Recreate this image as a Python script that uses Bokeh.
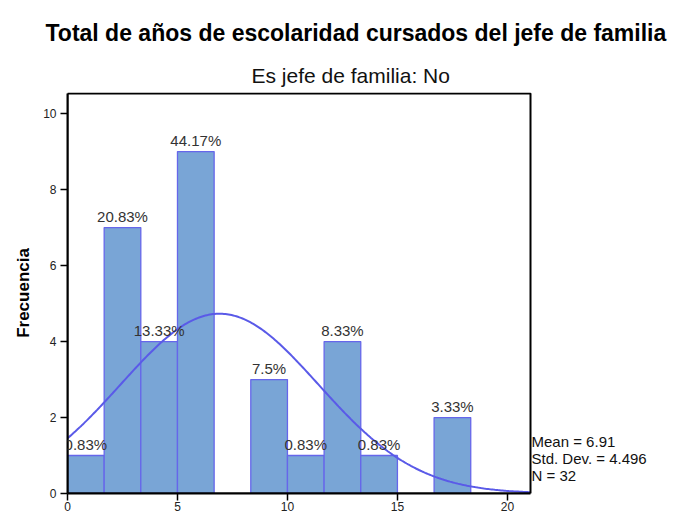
import numpy as np
from bokeh.plotting import figure
from bokeh.models import (Range1d, Title, Label, LabelSet, ColumnDataSource, FixedTicker,
                          BoxAnnotation)
from bokeh.core.properties import value
from bokeh.embed import file_html
from bokeh.resources import INLINE

# ---- data ----
bin_left = [0.0, 1.667, 3.333, 5.0, 8.333, 10.0, 11.667, 13.333, 16.667]
bin_right = [1.667, 3.333, 5.0, 6.667, 10.0, 11.667, 13.333, 15.0, 18.333]
counts = [1, 7, 4, 9, 3, 1, 4, 1, 2]
pct_labels = ["0.83%", "20.83%", "13.33%", "44.17%", "7.5%", "0.83%", "8.33%", "0.83%", "3.33%"]
stat_mean = 6.91
stat_std = 4.496
stat_n = 32
bin_width = 5.0 / 3.0
x_ticks = [0, 5, 10, 15, 20]
y_ticks = [0, 2, 4, 6, 8, 10]

# axis extents of the chart box
X_MAX = 21.05
Y_MAX = 10.53

FONT = "Liberation Sans"
BAR_FILL = "#79a5d6"
BAR_LINE = "#6666ea"
CURVE = "#5a5ae8"

W, H = 677, 514
LEFT, TOP, BOTTOM = 67, 92, 21
PX_PER_X = 463.0 / X_MAX           # frame box is 463 px wide in the reference
x_end = (W - LEFT) / PX_PER_X        # extend the frame to the right edge for the stats text
y_end = Y_MAX + 1.0 / 37.94

p = figure(width=W, height=H, output_backend="svg", toolbar_location=None,
           x_range=Range1d(0, x_end), y_range=Range1d(0, y_end),
           min_border_left=LEFT, min_border_right=0, min_border_top=TOP,
           min_border_bottom=BOTTOM, title=None)
p.background_fill_color = "white"
p.border_fill_color = "white"
p.outline_line_color = None
p.xgrid.visible = False
p.ygrid.visible = False

# chart box
p.add_layout(BoxAnnotation(left=0, right=X_MAX, bottom=0, top=Y_MAX,
                           fill_alpha=0, line_color="black", line_alpha=1.0,
                           line_width=2))

src = ColumnDataSource(dict(left=bin_left, right=bin_right, top=counts,
                            xc=[(a + b) / 2 for a, b in zip(bin_left, bin_right)],
                            lab=pct_labels))
p.quad(left="left", right="right", top="top", bottom=0, source=src,
       fill_color=BAR_FILL, line_color=BAR_LINE, line_width=1.3)

# fitted normal curve from the stats shown
xs = np.linspace(0, X_MAX, 300)
ys = stat_n * bin_width / (stat_std * np.sqrt(2 * np.pi)) * np.exp(-0.5 * ((xs - stat_mean) / stat_std) ** 2)
p.line(xs, ys, line_color=CURVE, line_width=2)

labels = LabelSet(x="xc", y="top", text="lab", source=src, text_align="center",
                  text_baseline="bottom", y_offset=3, text_font=value(FONT),
                  text_font_size=value("15px"), text_color="#333333")
p.add_layout(labels)

# statistics block to the right of the box
stat_texts = [f"Mean = {stat_mean}", f"Std. Dev. = {stat_std}", f"N = {stat_n}"]
stat_y = [1.37, 0.92, 0.47]
for t, yy in zip(stat_texts, stat_y):
    p.add_layout(Label(x=X_MAX, y=yy, text=t, x_offset=1,
                       text_baseline="middle", text_align="left",
                       text_font=FONT, text_font_size="15px", text_color="#111111"))

# axes
for ax in (p.xaxis[0], p.yaxis[0]):
    ax.axis_line_color = "black"
    ax.axis_line_width = 2
    ax.major_tick_line_color = "black"
    ax.major_tick_line_width = 1.5
    ax.major_tick_in = 0
    ax.major_tick_out = 7
    ax.minor_tick_line_color = None
    ax.major_label_text_font = FONT
    ax.major_label_text_font_size = "12px"
    ax.major_label_text_color = "#222222"
p.xaxis.ticker = FixedTicker(ticks=x_ticks)
p.yaxis.ticker = FixedTicker(ticks=y_ticks)
p.xaxis.bounds = (0, X_MAX)
p.yaxis.bounds = (0, Y_MAX)
p.xaxis.major_label_standoff = 1
p.yaxis.major_label_standoff = 4
p.yaxis.axis_label = "Frecuencia"
p.yaxis.axis_label_text_font = FONT
p.yaxis.axis_label_text_font_style = "bold"
p.yaxis.axis_label_text_font_size = "17px"
p.yaxis.axis_label_standoff = 7
p.yaxis.axis_label_text_color = "black"

# titles (first added is closest to the frame)
p.add_layout(Title(text="Es jefe de familia: No", align="left", offset=184,
                   text_font=FONT, text_font_size="21px", text_font_style="normal",
                   text_color="#111111", standoff=12), "above")
p.add_layout(Title(text="Total de años de escolaridad cursados del jefe de familia",
                   align="left", offset=-22, text_font=FONT, text_font_size="23px",
                   text_font_style="bold", text_color="black", standoff=20), "above")

open("out.html", "w").write(file_html(p, INLINE))
